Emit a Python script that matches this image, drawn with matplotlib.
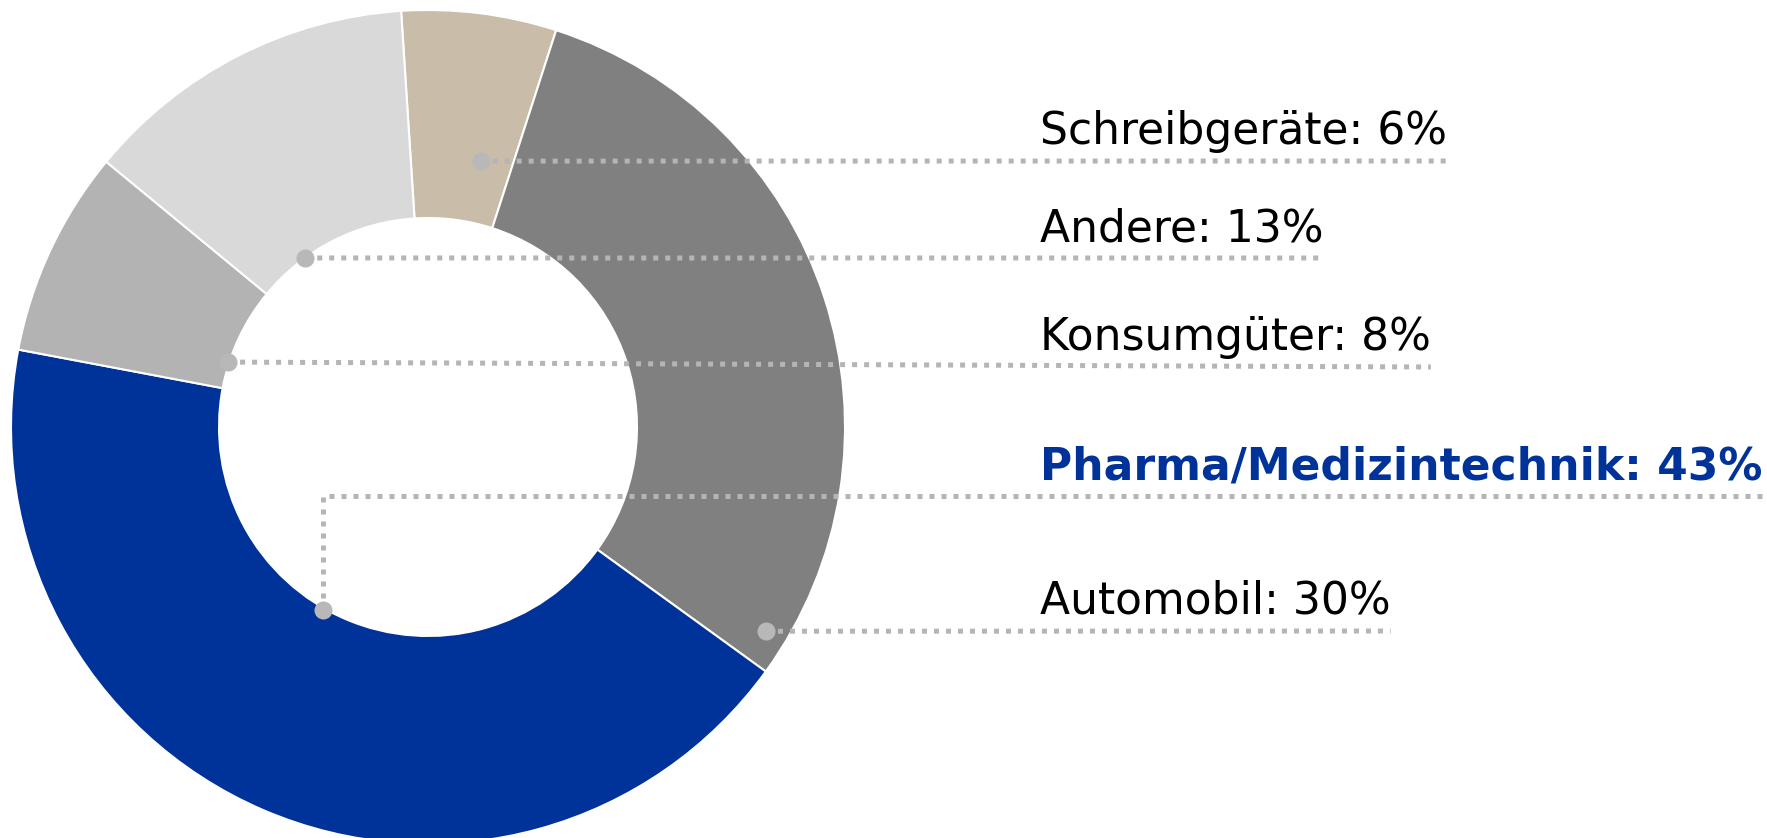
import numpy as np
import matplotlib
matplotlib.use("Agg")
import matplotlib.pyplot as plt

# Branchenanteile (Uhrzeigersinn ab oben)
labels = ["Schreibgeräte", "Automobil", "Pharma/Medizintechnik", "Konsumgüter", "Andere"]
shares = [6, 30, 43, 8, 13]
colors = ["#c9bca9", "#808080", "#003399", "#b3b3b3", "#d9d9d9"]
highlight = "Pharma/Medizintechnik"

# Layout (Pixel): Ringmitte, Radien, Startwinkel im Uhrzeigersinn ab 12 Uhr
W, H = 1767, 838
CX, CY = 428, H - 427
R_OUT, R_IN = 417, 209
START_CW = -3.7
TEXT_X = 1040
# Zeilenhöhe der Beschriftung (von oben) und Ankerpunkt im Segment (Anteil Winkel, Anteil Radius)
row_y = {"Schreibgeräte": 161, "Andere": 258, "Konsumgüter": 367,
         "Pharma/Medizintechnik": 496, "Automobil": 631}
anchor = {"Schreibgeräte": (0.69, 0.65), "Automobil": (0.956, 0.947),
          "Pharma/Medizintechnik": (0.542, 0.506), "Konsumgüter": (0.253, 0.504),
          "Andere": (0.31, 0.501)}
LINE_C = "#b5b5b5"
DOT_C = "#b8b8b8"

fig = plt.figure(figsize=(W / 100, H / 100), dpi=100)
ax = fig.add_axes([0, 0, 1, 1])
ax.pie(shares, colors=colors, startangle=90 - START_CW, counterclock=False,
       radius=R_OUT, center=(CX, CY),
       wedgeprops=dict(width=R_OUT - R_IN, edgecolor="white", linewidth=1.5))
ax.set_xlim(0, W)
ax.set_ylim(0, H)
ax.set_aspect("equal")
ax.axis("off")

texts = {}
for lab, val in zip(labels, shares):
    y = H - row_y[lab] + 17
    bold = lab == highlight
    texts[lab] = ax.text(TEXT_X, y, f"{lab}: {val}%", fontsize=31.7,
                         fontweight="bold" if bold else "normal",
                         color="#003399" if bold else "black",
                         va="baseline", ha="left", zorder=5)

fig.canvas.draw()
renderer = fig.canvas.get_renderer()

cum = START_CW
for lab, val in zip(labels, shares):
    span = 360 * val / 100
    fa, fr = anchor[lab]
    a = np.radians(cum + fa * span)
    cum += span
    dx = CX + fr * R_OUT * np.sin(a)
    dy = CY + fr * R_OUT * np.cos(a)
    x_end = ax.transData.inverted().transform(
        texts[lab].get_window_extent(renderer).get_points())[1, 0]
    ly = H - row_y[lab]
    if lab == highlight:
        xs, ys = [dx, dx, x_end], [dy, ly, ly]
    else:
        xs, ys = [dx, x_end], [dy, ly]
    ax.plot(xs, ys, color=LINE_C, lw=3.6, linestyle=(0, (1, 1.4)),
            dash_capstyle="butt", zorder=3)
    ax.plot(dx, dy, "o", color=DOT_C, ms=13, mew=0, zorder=4)

fig.savefig("out.png", dpi=100)
